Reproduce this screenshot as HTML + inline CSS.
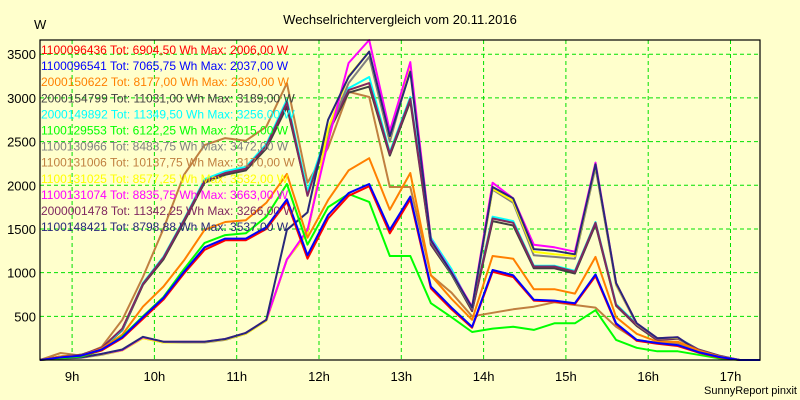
<!DOCTYPE html>
<html><head><meta charset="utf-8"><style>
html,body{margin:0;padding:0;background:#ffffcc;}
svg{display:block;font-family:"Liberation Sans","DejaVu Sans",sans-serif;}
</style></head><body>
<svg id="chart" width="800" height="400" viewBox="0 0 800 400">
<rect x="0" y="0" width="800" height="400" fill="#ffffcc"/>
<text x="400" y="24" text-anchor="middle" font-size="13" fill="#000">Wechselrichtervergleich vom 20.11.2016</text>
<text x="34" y="29" font-size="13" fill="#000">W</text>
<text x="797" y="394" text-anchor="end" font-size="11" fill="#000">SunnyReport pinxit</text>
<g id="grid"></g>
<g id="yticks"></g>
<g id="xticks"></g>
<g id="series"></g>
<g id="legend"></g>
<rect x="40" y="40" width="720" height="320" fill="none" stroke="#000" stroke-width="1.2"/>
</svg>
<script>
const startHour = 8.61;
const stepHour = 0.25;
const yTicks = [500,1000,1500,2000,2500,3000,3500];
const xTickHours = [9,10,11,12,13,14,15,16,17];
const xTickLabels = ["9h","10h","11h","12h","13h","14h","15h","16h","17h"];
const seriesNames = ["1100096436","1100096541","2000150622","2000154799","2000149892","1100129553","1100130966","1100131006","1100131025","1100131074","2000001478","1100148421"];
const seriesTotals = ["6904,50","7065,75","8177,00","11031,00","11349,50","6122,25","8483,75","10137,75","8577,25","8835,75","11342,25","8798,88"];
const seriesMax = ["2006,00","2037,00","2330,00","3189,00","3256,00","2015,00","3472,00","3170,00","3532,00","3663,00","3266,00","3537,00"];
const seriesColors = ["#ff0000","#0000ff","#ff8000","#404040","#00ffff","#00ff00","#808080","#c08040","#ffff00","#ff00ff","#802860","#28287a"];
const sRed     = [0,30,50,110,250,470,690,990,1260,1370,1370,1500,1810,1160,1620,1880,1990,1450,1840,820,580,370,1010,950,680,670,640,960,410,220,185,160,85,30,0,0];
const sBlue    = [0,30,50,120,260,490,710,1010,1290,1390,1390,1520,1840,1200,1660,1910,2015,1490,1870,840,600,380,1030,970,690,680,650,980,420,230,195,170,90,35,0,0];
const sOrange  = [0,40,50,130,290,610,840,1140,1490,1580,1600,1800,2130,1400,1830,2170,2310,1720,2140,970,700,460,1190,1160,810,810,760,1180,490,300,210,210,110,40,0,0];
const sDkGray  = [0,40,60,130,340,860,1150,1580,2030,2120,2170,2420,2900,1900,2600,3060,3130,2340,2960,1320,980,560,1590,1540,1050,1050,990,1550,620,390,225,245,115,45,0,0];
const sCyan    = [0,40,60,130,350,880,1180,1610,2070,2160,2210,2470,2980,1930,2640,3110,3240,2380,3010,1400,1040,580,1640,1590,1080,1080,1020,1580,640,410,235,255,120,50,0,0];
const sGreen   = [0,20,40,110,270,500,720,1040,1340,1430,1450,1640,2015,1320,1750,1900,1810,1190,1190,650,490,320,360,380,345,420,420,570,230,140,100,100,60,20,0,0];
const sGray    = [0,15,25,60,110,250,200,200,200,230,300,450,1150,1450,2600,3170,3470,2500,3350,1360,990,590,1950,1800,1200,1180,1160,2200,860,410,245,255,100,40,0,0];
const sBrown   = [0,80,50,150,460,950,1500,2120,2460,2540,2510,2670,3170,2030,2430,3070,3010,1980,1980,970,770,500,540,580,610,660,630,600,380,230,195,195,100,40,0,0];
const sYellow  = [0,20,30,65,110,250,200,205,205,235,300,450,1150,1450,2650,3250,3530,2550,3380,1370,1000,600,1960,1820,1240,1210,1190,2230,870,415,250,255,100,40,0,0];
const sMagenta = [0,20,30,70,115,260,210,210,210,240,310,460,1150,1490,2500,3400,3663,2620,3410,1380,1010,610,2030,1850,1320,1290,1240,2260,880,420,250,260,100,40,0,0];
const sPurple  = [0,40,60,140,360,870,1170,1600,2050,2140,2190,2450,2950,1880,2620,3090,3170,2360,2990,1330,1000,570,1620,1570,1070,1070,1010,1570,630,400,230,250,120,50,0,0];
const sNavy    = [0,20,30,70,120,265,210,210,210,240,310,460,1490,1690,2750,3240,3530,2560,3300,1370,1000,600,1980,1850,1270,1250,1210,2240,880,420,250,260,100,40,0,0];
const seriesValues = [sRed,sBlue,sOrange,sDkGray,sCyan,sGreen,sGray,sBrown,sYellow,sMagenta,sPurple,sNavy];
const drawOrder = [7,3,4,10,6,8,9,11,2,5,0,1];

const NS = "http://www.w3.org/2000/svg";
const plotL = 40, plotR = 760, plotT = 40, plotB = 360;
const yMax = 3663;
function xScale(h){ return plotL + (h - startHour) * 82.3; }
function yScale(v){ return plotB - v * (plotB - plotT) / yMax; }

const grid = document.getElementById('grid');
const yg = document.getElementById('yticks');
yTicks.forEach(v => {
  const l = document.createElementNS(NS,'line');
  l.setAttribute('x1',plotL); l.setAttribute('x2',plotR);
  l.setAttribute('y1',yScale(v)); l.setAttribute('y2',yScale(v));
  l.setAttribute('stroke','#00e000'); l.setAttribute('stroke-dasharray','4,3');
  
  
  grid.appendChild(l);
  const t = document.createElementNS(NS,'text');
  t.setAttribute('x',36); t.setAttribute('y',yScale(v)+5);
  t.setAttribute('text-anchor','end'); t.setAttribute('font-size','13');
  t.textContent = v;
  
  
  yg.appendChild(t);
});
const xg = document.getElementById('xticks');
xTickHours.forEach((h,i) => {
  const l = document.createElementNS(NS,'line');
  l.setAttribute('x1',xScale(h)); l.setAttribute('x2',xScale(h));
  l.setAttribute('y1',plotT); l.setAttribute('y2',plotB);
  l.setAttribute('stroke','#00e000'); l.setAttribute('stroke-dasharray','4,3');
  
  
  grid.appendChild(l);
  const t = document.createElementNS(NS,'text');
  t.setAttribute('x',xScale(h)); t.setAttribute('y',381);
  t.setAttribute('text-anchor','middle'); t.setAttribute('font-size','13');
  t.textContent = xTickLabels[i];
  
  
  xg.appendChild(t);
});
const sg = document.getElementById('series');
drawOrder.forEach(si => {
  const vals = seriesValues[si];
  const pts = vals.map((v,i) => xScale(startHour + i*stepHour).toFixed(1) + ',' + yScale(v).toFixed(1)).join(' ');
  const p = document.createElementNS(NS,'polyline');
  p.setAttribute('points',pts); p.setAttribute('fill','none');
  p.setAttribute('stroke',seriesColors[si]); p.setAttribute('stroke-width','2');
  p.setAttribute('stroke-linejoin','round');
  
  
  sg.appendChild(p);
});
const lg = document.getElementById('legend');
seriesNames.forEach((n,i) => {
  const t = document.createElementNS(NS,'text');
  t.setAttribute('x',41); t.setAttribute('y',54 + i*16.1);
  t.setAttribute('font-size','12'); t.setAttribute('fill',seriesColors[i]);
  t.textContent = n + ' Tot: ' + seriesTotals[i] + ' Wh Max: ' + seriesMax[i] + ' W';
  
  
  lg.appendChild(t);
});
</script>
</body></html>
